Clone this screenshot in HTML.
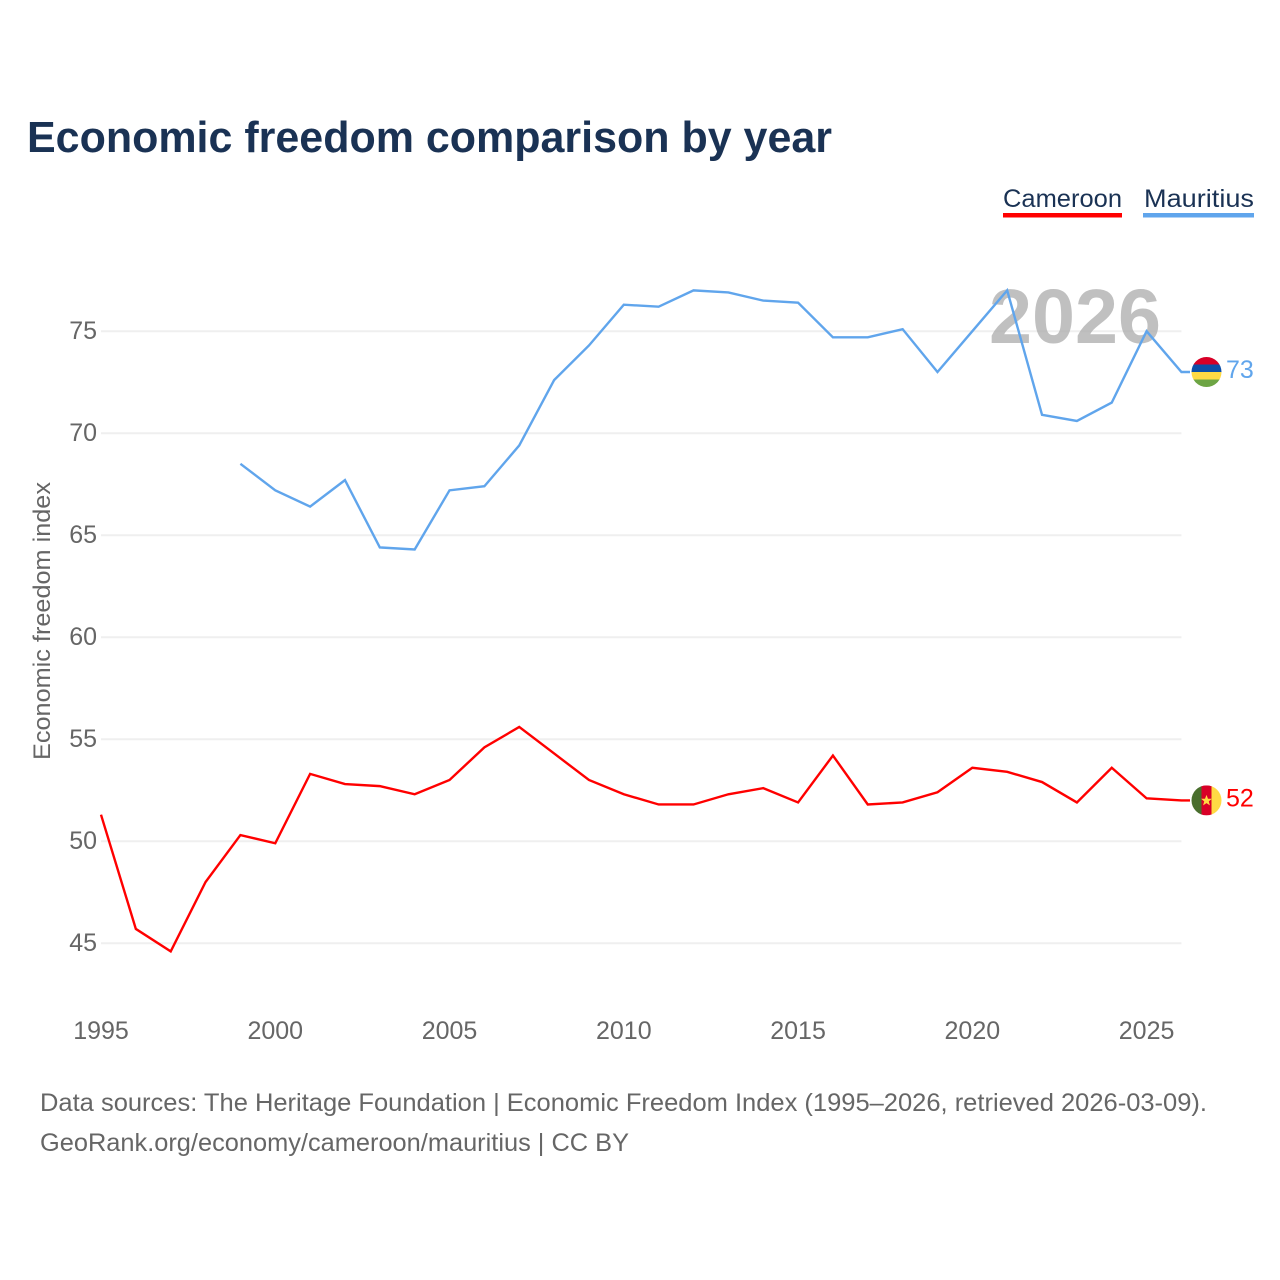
<!DOCTYPE html>
<html lang="en">
<head>
<meta charset="utf-8">
<title>Economic freedom comparison by year</title>
<style>
html,body{margin:0;padding:0;background:#fff;width:1280px;height:1280px;overflow:hidden}
svg{display:block}
text{font-family:"Liberation Sans",sans-serif}
</style>
</head>
<body>
<svg id="chart" xmlns="http://www.w3.org/2000/svg" width="1280" height="1280" viewBox="0 0 1280 1280">
  <rect x="0" y="0" width="1280" height="1280" fill="#ffffff"/>
  <g id="grid"></g>
  <text x="989" y="343" font-size="77" font-weight="700" fill="#a8a8a8" fill-opacity="0.72" textLength="172" lengthAdjust="spacingAndGlyphs">2026</text>
  <g id="yticks"></g>
  <g id="xticks"></g>
  <g id="series"></g>
  <text x="27" y="152" font-size="44" font-weight="700" fill="#1a3254" textLength="805" lengthAdjust="spacingAndGlyphs">Economic freedom comparison by year</text>
  <g>
    <g>
      <text x="1003" y="207" font-size="25" fill="#1a3254" textLength="119" lengthAdjust="spacingAndGlyphs">Cameroon</text>
      <rect x="1003" y="213" width="119" height="4.5" fill="#ff0000"/>
    </g>
    <g>
      <text x="1144" y="207" font-size="25" fill="#1a3254" textLength="110" lengthAdjust="spacingAndGlyphs">Mauritius</text>
      <rect x="1143" y="213" width="111" height="4.5" fill="#60a5ec"/>
    </g>
  </g>
  <text transform="translate(50,621) rotate(-90)" text-anchor="middle" font-size="24" fill="#666666" textLength="278" lengthAdjust="spacingAndGlyphs">Economic freedom index</text>
  <defs>
    <clipPath id="clip-mu"><circle id="clip-mu-circle" r="15"/></clipPath>
    <clipPath id="clip-cm"><circle id="clip-cm-circle" r="15"/></clipPath>
  </defs>
  <g id="flag-mu" clip-path="url(#clip-mu)">
    <rect x="-15" y="-15" width="30" height="8" fill="#d80027"/>
    <rect x="-15" y="-7.5" width="30" height="8" fill="#0d4fa8"/>
    <rect x="-15" y="0" width="30" height="8" fill="#ffda44"/>
    <rect x="-15" y="7.5" width="30" height="8" fill="#6da544"/>
  </g>
  <g id="flag-cm" clip-path="url(#clip-cm)">
    <rect x="-15" y="-15" width="10.5" height="30" fill="#496e2d"/>
    <rect x="-5" y="-15" width="10.5" height="30" fill="#d80027"/>
    <rect x="5" y="-15" width="10" height="30" fill="#ffda44"/>
    <polygon points="0,-5.5 1.5,-1.6 5.4,-1.6 2.3,1 3.4,5 0,2.7 -3.4,5 -2.3,1 -5.4,-1.6 -1.5,-1.6" fill="#ffda44"/>
  </g>
  <text id="label-mu" x="1226" font-size="25" fill="#60a5ec">73</text>
  <text id="label-cm" x="1226" font-size="25" fill="#ff0000">52</text>
  <text x="40" y="1111" font-size="25" fill="#666666" textLength="1167" lengthAdjust="spacingAndGlyphs">Data sources: The Heritage Foundation | Economic Freedom Index (1995–2026, retrieved 2026-03-09).</text>
  <text x="40" y="1151" font-size="25" fill="#666666" textLength="589" lengthAdjust="spacingAndGlyphs">GeoRank.org/economy/cameroon/mauritius | CC BY</text>
</svg>
<script>
const yTickValues = [45, 50, 55, 60, 65, 70, 75];
const xTickValues = [1995, 2000, 2005, 2010, 2015, 2020, 2025];
const cameroonYears = [1995,1996,1997,1998,1999,2000,2001,2002,2003,2004,2005,2006,2007,2008,2009,2010,2011,2012,2013,2014,2015,2016,2017,2018,2019,2020,2021,2022,2023,2024,2025,2026];
const cameroonValues = [51.3,45.7,44.6,48.0,50.3,49.9,53.3,52.8,52.7,52.3,53.0,54.6,55.6,54.3,53.0,52.3,51.8,51.8,52.3,52.6,51.9,54.2,51.8,51.9,52.4,53.6,53.4,52.9,51.9,53.6,52.1,52.0];
const mauritiusYears = [1999,2000,2001,2002,2003,2004,2005,2006,2007,2008,2009,2010,2011,2012,2013,2014,2015,2016,2017,2018,2019,2020,2021,2022,2023,2024,2025,2026];
const mauritiusValues = [68.5,67.2,66.4,67.7,64.4,64.3,67.2,67.4,69.4,72.6,74.3,76.3,76.2,77.0,76.9,76.5,76.4,74.7,74.7,75.1,73.0,75.0,77.0,70.9,70.6,71.5,75.0,73.0];

const NS = 'http://www.w3.org/2000/svg';
function xScale(year) { return 101 + (year - 1995) * (1146.6 - 101) / 30; }
function yScale(value) { return 943.2 - (value - 45) * (943.2 - 331.2) / 30; }
function make(tag, attrs, parent) {
  const el = document.createElementNS(NS, tag);
  for (const k in attrs) el.setAttribute(k, attrs[k]);
  parent.appendChild(el);
  return el;
}

const grid = document.getElementById('grid');
const yticks = document.getElementById('yticks');
const xticks = document.getElementById('xticks');
const series = document.getElementById('series');

yTickValues.forEach(function (v) {
  const line = make('line', {x1: xScale(1995), x2: xScale(2026), y1: yScale(v), y2: yScale(v), stroke: '#efefef', 'stroke-width': 2}, grid);
  
  
  const label = make('text', {x: 97, y: yScale(v) + 8, 'text-anchor': 'end', 'font-size': 25, fill: '#666666'}, yticks);
  label.textContent = v;
  
  
});

xTickValues.forEach(function (v) {
  const label = make('text', {x: xScale(v), y: 1039, 'text-anchor': 'middle', 'font-size': 25, fill: '#666666'}, xticks);
  label.textContent = v;
  
  
});

function drawSeries(years, values, color) {
  const pts = years.map(function (yr, i) { return xScale(yr).toFixed(2) + ',' + yScale(values[i]).toFixed(2); });
  const lastY = yScale(values[values.length - 1]).toFixed(2);
  pts.push('1190,' + lastY);
  return make('polyline', {points: pts.join(' '), fill: 'none', stroke: color, 'stroke-width': 2.4, 'stroke-linejoin': 'miter'}, series);
}

const cameroonLine = drawSeries(cameroonYears, cameroonValues, '#ff0000');



const mauritiusLine = drawSeries(mauritiusYears, mauritiusValues, '#60a5ec');



function placeEnd(flagId, labelId, values) {
  const y = yScale(values[values.length - 1]);
  document.getElementById(flagId).setAttribute('transform', 'translate(1206.5,' + y + ')');
  document.getElementById(labelId).setAttribute('y', y + 6);
}
placeEnd('flag-mu', 'label-mu', mauritiusValues);
placeEnd('flag-cm', 'label-cm', cameroonValues);
</script>
</body>
</html>
